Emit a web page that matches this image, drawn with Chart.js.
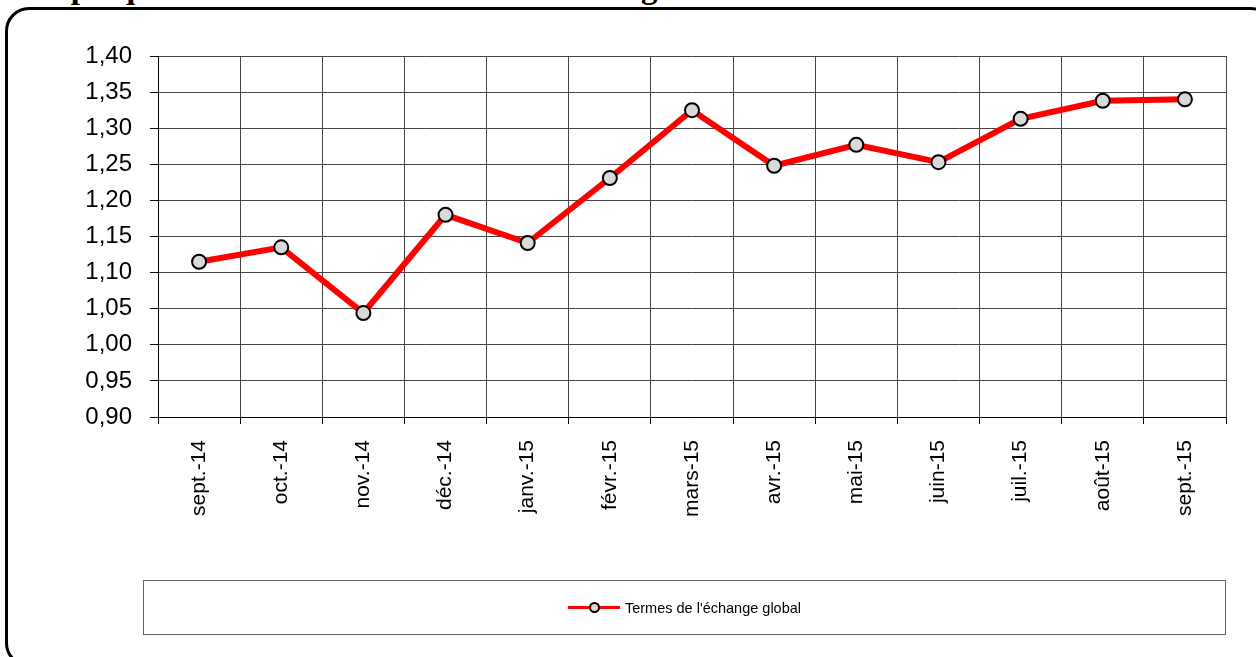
<!DOCTYPE html>
<html>
<head>
<meta charset="utf-8">
<script src="https://cdn.jsdelivr.net/npm/chart.js@4.4.0/dist/chart.umd.min.js"></script>
<style>
  html, body { margin: 0; padding: 0; background: #fff; overflow: hidden; }
  body { width: 1256px; height: 657px; position: relative; }
  #titre {
    position: absolute; left: 14px; top: -29px;
    font: bold 33px/33px "Liberation Serif", "Times New Roman", serif;
    white-space: nowrap; color: #000;
  }
  #cadre {
    position: absolute; left: 5px; top: 7px; width: 1270px; height: 660px;
    border: 3px solid #000; border-radius: 24px; box-sizing: border-box;
  }
  #legende {
    position: absolute; left: 143px; top: 580px; width: 1083px; height: 55px;
    border: 1px solid #666; box-sizing: border-box;
    display: flex; align-items: center; justify-content: center;
    font: 14.5px "Liberation Sans", Arial, sans-serif; color: #000;
  }
  .symbole { position: relative; width: 52px; height: 11px; margin-right: 5px; }
  .symbole .trait { position: absolute; left: 0; right: 0; top: 4px; height: 3px; background: #f00; }
  .symbole .rond {
    position: absolute; left: 21px; top: 0; width: 7px; height: 7px;
    border: 2px solid #000; border-radius: 50%; background: #d9d9d9;
  }
  #graphique { position: absolute; left: 0; top: 0; }
</style>
</head>
<body>
<div id="titre">Graphique : Evolution des termes de l'échange</div>
<div id="cadre"></div>
<canvas id="graphique" width="1256" height="657"></canvas>
<div id="legende"><span class="symbole"><span class="trait"></span><span class="rond"></span></span>Termes de l'échange global</div>
<script>
// Données
const mois = ['sept.-14', 'oct.-14', 'nov.-14', 'déc.-14', 'janv.-15', 'févr.-15', 'mars-15',
              'avr.-15', 'mai-15', 'juin-15', 'juil.-15', 'août-15', 'sept.-15'];
const termesEchange = [1.115, 1.135, 1.044, 1.180, 1.141, 1.231, 1.325,
                       1.248, 1.277, 1.253, 1.313, 1.338, 1.340];
const yMin = 0.90, yMax = 1.40, yPas = 0.05;

const ctx = document.getElementById('graphique').getContext('2d');
const graphique = new Chart(ctx, {
    type: 'line',
    data: {
        labels: mois,
        datasets: [{
            label: "Termes de l'échange global",
            data: termesEchange,
            borderColor: '#ff0000',
            borderWidth: 6,
            tension: 0,
            pointRadius: 7,
            pointBorderWidth: 2,
            pointBackgroundColor: '#d9d9d9',
            pointBorderColor: '#000000'
        }]
    },
    options: {
        responsive: false,
        animation: false,
        events: [],
        layout: { padding: { left: 0, right: 30, top: 56, bottom: 0 } },
        plugins: { legend: { display: false }, tooltip: { enabled: false } },
        scales: {
            x: {
                offset: true,
                grid: {
                    offset: true, color: '#444', lineWidth: 1, borderDash: [1, 1],
                    tickLength: 7, tickColor: '#000', tickBorderDash: []
                },
                border: { color: '#000', width: 1 },
                ticks: {
                    color: '#000', padding: 16, minRotation: 90, maxRotation: 90, autoSkip: false,
                    font: { family: '"Liberation Sans", Arial, sans-serif', size: 21 }
                },
                afterFit: (scale) => { scale.height = 240; }
            },
            y: {
                min: yMin, max: yMax,
                grid: {
                    color: '#444', lineWidth: 1, borderDash: [1, 1],
                    tickLength: 8, tickColor: '#000', tickBorderDash: []
                },
                border: { color: '#000', width: 1 },
                ticks: {
                    stepSize: yPas, color: '#000', padding: 18,
                    font: { family: '"Liberation Sans", Arial, sans-serif', size: 24 },
                    callback: (v) => v.toFixed(2).replace('.', ',')
                },
                afterFit: (scale) => { scale.width = 158; }
            }
        }
    }
});
</script>
</body>
</html>
